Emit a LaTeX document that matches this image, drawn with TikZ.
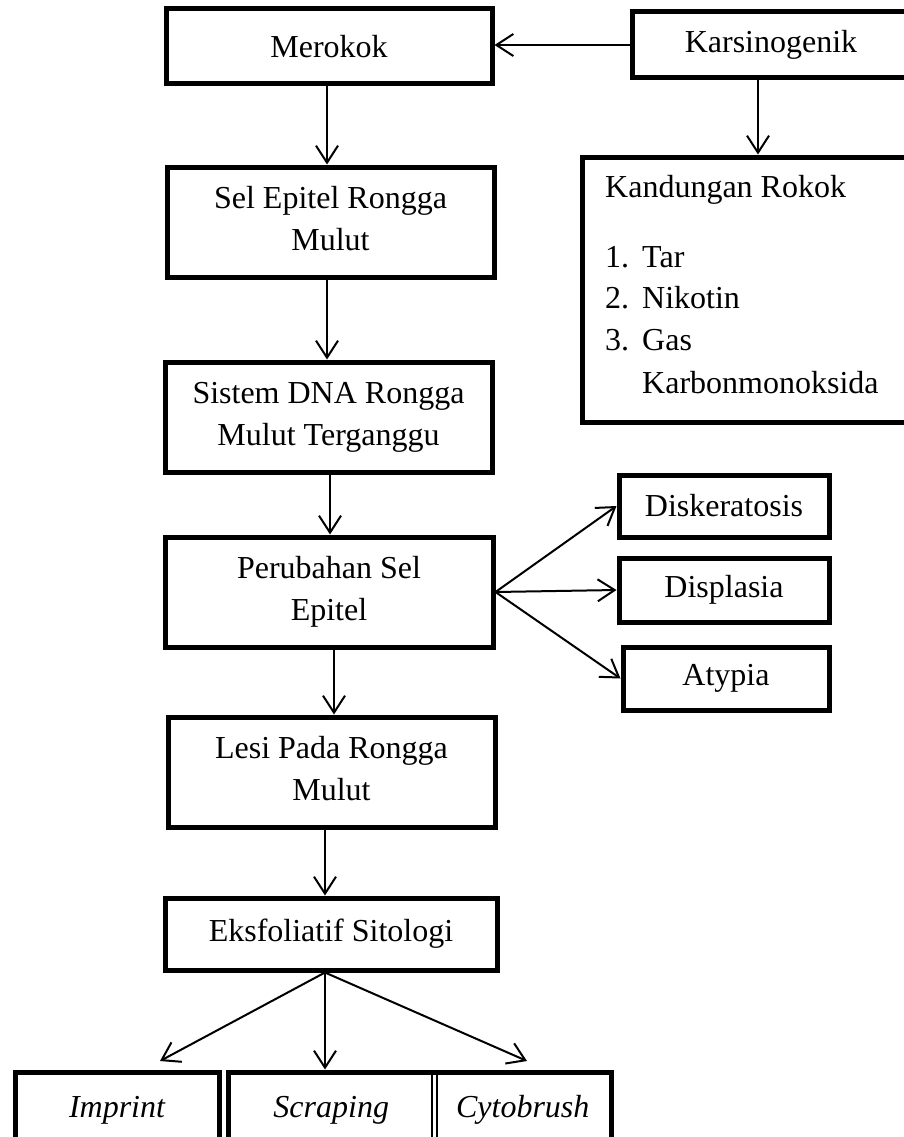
\documentclass[tikz,border=0pt]{standalone}
\usepackage{fontspec}
\setmainfont{Liberation Serif}
\usetikzlibrary{arrows.meta,fit}
\begin{document}
\begin{tikzpicture}[x=1pt,y=-1pt,
  box/.style={draw, line width=5pt, rectangle, inner sep=0pt, align=center,
    font=\fontsize{32}{42}\selectfont},
  cell/.style={rectangle, inner sep=0pt, outer sep=0pt, align=center,
    font=\fontsize{32}{42}\selectfont\itshape},
  lbl/.style={inner sep=0pt, anchor=base west, font=\fontsize{32}{42}\selectfont},
  arr/.style={line width=2pt, -{Straight Barb[length=17pt,width=22pt]}},
  divider/.style={line width=1.2pt}
  ]
\useasboundingbox (0,0) rectangle (904,1137);
\clip (0,0) rectangle (904,1137);

\node[box, minimum width=326pt, minimum height=75pt] (merokok) at (329,46.5) {Merokok};
\node[box, minimum width=278pt, minimum height=66pt] (karsi) at (771,45) {Karsinogenik};
\node[box, minimum width=328pt, minimum height=265pt] (kand) at (746,289.5) {};
\node[lbl] (kt) at (605,197) {Kandungan Rokok};
\node[lbl] (k1) at (605,267) {\makebox[37pt][l]{1.}Tar};
\node[lbl] (k2) at (605,308) {\makebox[37pt][l]{2.}Nikotin};
\node[lbl] (k3) at (605,350) {\makebox[37pt][l]{3.}Gas};
\node[lbl] (k4) at (642,393) {Karbonmonoksida};

\node[box, minimum width=327pt, minimum height=110pt] (sel) at (330.5,222) {Sel Epitel Rongga\\Mulut\vphantom{g}};
\node[box, minimum width=327pt, minimum height=110pt] (sistem) at (328.5,417) {Sistem DNA Rongga\\Mulut Terganggu};
\node[box, minimum width=328pt, minimum height=110pt] (perub) at (329,592) {Perubahan Sel\\Epitel};
\node[box, minimum width=327pt, minimum height=110pt] (lesi) at (331.5,772) {Lesi Pada Rongga\\Mulut\vphantom{g}};
\node[box, minimum width=332pt, minimum height=72pt] (eksf) at (331,934) {Eksfoliatif Sitologi};

\node[box, minimum width=210pt, minimum height=62pt] (disk) at (724,506) {Diskeratosis};
\node[box, minimum width=210pt, minimum height=64pt] (displ) at (724,590) {Displasia};
\node[box, minimum width=206pt, minimum height=63pt] (atyp) at (726,678.5) {Atypia};

\node[box, minimum width=204pt, minimum height=76pt, font=\fontsize{32}{42}\selectfont\itshape] (imprint) at (117,1110) {Imprint};
\node[cell, minimum width=206.5pt, minimum height=76pt] (scraping) at (331.25,1110) {Scraping};
\node[cell, minimum width=176.5pt, minimum height=76pt] (cyto) at (522.75,1110) {Cytobrush};
\node[draw, line width=5pt, inner sep=0pt, fit=(scraping)(cyto)] (pair) {};
\draw[divider] ([xshift=-2.5pt]scraping.north east) -- ([xshift=-2.5pt]scraping.south east);
\draw[divider] ([xshift=2.5pt]scraping.north east) -- ([xshift=2.5pt]scraping.south east);

\coordinate (ks) at ([xshift=-13pt]karsi.south);
\coordinate (xa) at (327,0);
\coordinate (xb) at (330,0);
\coordinate (xc) at (334,0);
\coordinate (xd) at (325,0);
\coordinate (tipL) at (160,1061);
\coordinate (tipR) at (527,1061);

\draw[arr] (karsi.west) -- (karsi.west -| merokok.east);
\draw[arr] (ks) -- (ks |- kand.north);
\draw[arr] (merokok.south -| xa) -- (sel.north -| xa);
\draw[arr] (sel.south -| xa) -- (sistem.north -| xa);
\draw[arr] (sistem.south -| xb) -- (perub.north -| xb);
\draw[arr] (perub.south -| xc) -- (lesi.north -| xc);
\draw[arr] (lesi.south -| xd) -- (eksf.north -| xd);
\draw[arr] (perub.east) -- (disk.west);
\draw[arr] (perub.east) -- (displ.west);
\draw[arr] (perub.east) -- (atyp.west);
\draw[arr] (eksf.south -| xd) -- (tipL);
\draw[arr] (eksf.south -| xd) -- (pair.north -| xd);
\draw[arr] (eksf.south -| xd) -- (tipR);
\end{tikzpicture}
\end{document}
